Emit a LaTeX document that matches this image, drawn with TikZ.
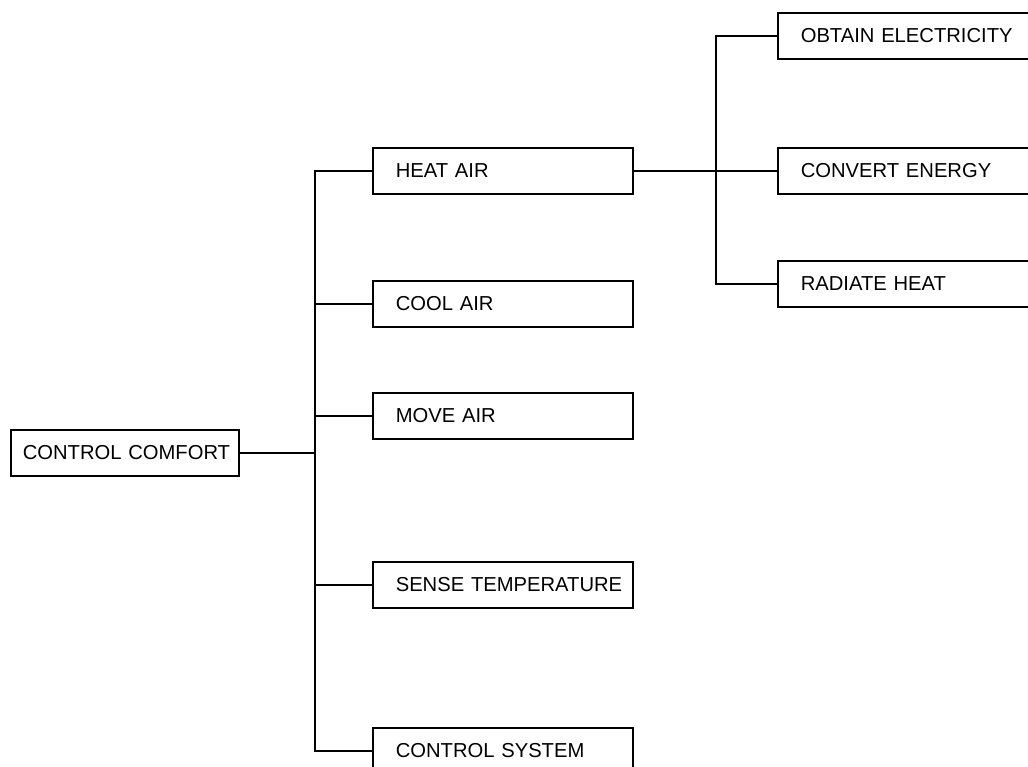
\documentclass[tikz,border=0pt]{standalone}
\usepackage{fontspec}
\setmainfont{Liberation Sans}
\begin{document}
\begin{tikzpicture}[
  x=0.02cm, y=-0.02cm, line width=0.9pt,
  every node/.style={font=\fontsize{11.5}{14}\selectfont},
  box/.style={draw, inner xsep=0pt, align=left, minimum height=0.92cm,
    text width=5.2cm, anchor=west, execute at begin node=\hspace*{#1}},
  box/.default=0.46cm
]
\useasboundingbox (0,0) rectangle (1028,767);
\clip (0,0) rectangle (1028,767);
\node[box=0.24cm, text width=4.56cm] (comfort) at (10,453) {CONTROL COMFORT};
\node[box] (heat)  at (372,171) {HEAT AIR};
\node[box] (cool)  at (372,304) {COOL AIR};
\node[box] (move)  at (372,416) {MOVE AIR};
\node[box] (sense) at (372,585) {SENSE TEMPERATURE};
\node[box] (ctrl)  at (372,751) {CONTROL SYSTEM};
\node[box] (elec)  at (777,36)  {OBTAIN ELECTRICITY};
\node[box] (conv)  at (777,171) {CONVERT ENERGY};
\node[box] (rad)   at (777,284) {RADIATE HEAT};
% trunks
\coordinate (trunk) at (315,453);
\coordinate (trunkb) at (716,171);
\draw (comfort.east) -- (trunk);
\foreach \n in {heat,cool,move,sense,ctrl}
  \draw (\n.west) -| (trunk);
\draw (heat.east) -- (trunkb);
\foreach \n in {elec,conv,rad}
  \draw (\n.west) -| (trunkb);
\end{tikzpicture}
\end{document}
